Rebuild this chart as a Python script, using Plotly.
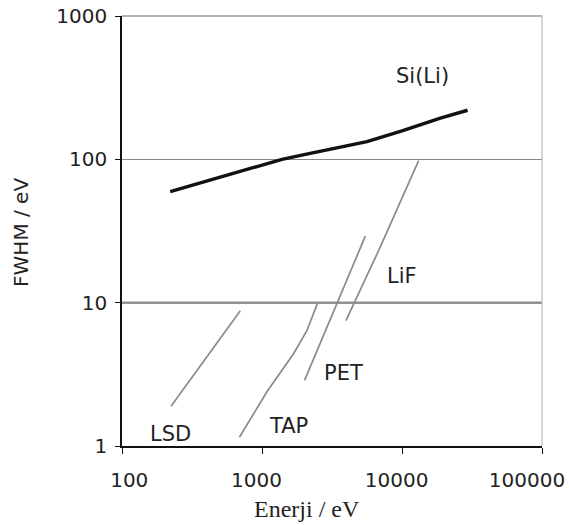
import numpy as np
import plotly.graph_objects as go

# Energy (eV) and resolution FWHM (eV) for each detector / crystal
sili_energy = [221, 360, 630, 1000, 1390, 2000, 3240, 5620, 10000, 18800, 29400]
sili_fwhm = [59.6, 68.5, 80, 91, 100, 108, 119.5, 133, 158, 194, 220]

lif_energy = [3980, 7000, 13150]
lif_fwhm = [7.5, 24.5, 98]

pet_energy = [2014, 3435, 5470]
pet_fwhm = [2.87, 9.85, 29.1]

tap_energy = [690, 1087, 1680, 2095, 2480]
tap_fwhm = [1.15, 2.4, 4.4, 6.4, 9.8]

lsd_energy = [224, 700]
lsd_fwhm = [1.89, 8.77]

# Curve labels: text, energy, FWHM
label_text = ["Si(Li)", "LiF", "PET", "TAP", "LSD"]
label_energy = [13900, 9930, 3810, 1550, 221]
label_fwhm = [380, 15.3, 3.21, 1.39, 1.21]

x_ticks = [100, 1000, 10000, 100000]
y_ticks = [1, 10, 100, 1000]

# leading non-breaking spaces per x tick label (all labels are shifted left)
x_label_lead = [7, 3, 3, 0]

NBSP = "\u00a0"

X_RANGE = [2, 5]   # log10 of 100 .. 100000 eV
Y_RANGE = [0, 3]   # log10 of 1 .. 1000 eV

GRAY = "#8a8a8a"
TICK_FONT = dict(family="DejaVu Sans", size=20, color="#222222")

fig = go.Figure()

for ex, fw in [(lsd_energy, lsd_fwhm), (tap_energy, tap_fwhm),
               (pet_energy, pet_fwhm), (lif_energy, lif_fwhm)]:
    fig.add_trace(go.Scatter(x=ex, y=fw, mode="lines",
                             line=dict(color=GRAY, width=1.7),
                             showlegend=False, hoverinfo="skip"))

fig.add_trace(go.Scatter(x=sili_energy, y=sili_fwhm, mode="lines",
                         line=dict(color="#111111", width=3.4),
                         showlegend=False, hoverinfo="skip"))

for t, ex, fw in zip(label_text, label_energy, label_fwhm):
    fig.add_annotation(x=np.log10(ex), y=np.log10(fw), text=t, showarrow=False,
                       xanchor="center", yanchor="middle",
                       font=dict(family="DejaVu Sans", size=21, color="#222222"))

# darker reference line at 10 eV (above the grid, beneath the curves)
y10 = (np.log10(10) - Y_RANGE[0]) / (Y_RANGE[1] - Y_RANGE[0])
fig.add_shape(type="line", xref="paper", yref="paper", x0=0, x1=1, y0=y10, y1=y10,
              line=dict(color="#2e2e2e", width=1.8), layer="between")
# light frame on top and right
fig.add_shape(type="line", xref="paper", yref="paper", x0=0, x1=1, y0=1, y1=1,
              line=dict(color="#9a9a9a", width=1.5))
fig.add_shape(type="line", xref="paper", yref="paper", x0=1, x1=1, y0=0, y1=1,
              line=dict(color="#b0b0b0", width=1))

# axis titles
fig.add_annotation(xref="paper", yref="paper", x=0.441, y=-0.147,
                   text="Enerji / eV", showarrow=False,
                   xanchor="center", yanchor="middle",
                   font=dict(family="Liberation Serif", size=24, color="#222222"))
fig.add_annotation(xref="paper", yref="paper", x=-0.24, y=0.496,
                   text="FWHM / eV", showarrow=False, textangle=-90,
                   xanchor="center", yanchor="middle",
                   font=dict(family="DejaVu Sans", size=20, color="#222222"))

fig.update_xaxes(type="log", range=X_RANGE, tickvals=x_ticks,
                 ticktext=[NBSP * n + str(v) for v, n in zip(x_ticks, x_label_lead)],
                 ticklabelshift=-15, ticklabelstandoff=9, automargin=False,
                 showgrid=False, zeroline=False,
                 showline=True, linecolor="#111111", linewidth=1.5,
                 ticks="outside", ticklen=6, tickcolor="#111111", tickwidth=1.2,
                 tickfont=TICK_FONT)
fig.update_yaxes(type="log", range=Y_RANGE, tickvals=y_ticks,
                 ticktext=[str(v) for v in y_ticks], automargin=False,
                 showgrid=True, gridcolor=GRAY, gridwidth=1, zeroline=False,
                 showline=True, linecolor="#111111", linewidth=1.5,
                 ticks="outside", ticklen=5, tickcolor="#111111", tickwidth=1.2,
                 tickfont=TICK_FONT, ticklabelstandoff=4)

fig.update_layout(width=569, height=525, autosize=False,
                  margin=dict(l=122, r=27, t=16, b=79, autoexpand=False),
                  paper_bgcolor="white", plot_bgcolor="white")

fig.write_html("out.html")
